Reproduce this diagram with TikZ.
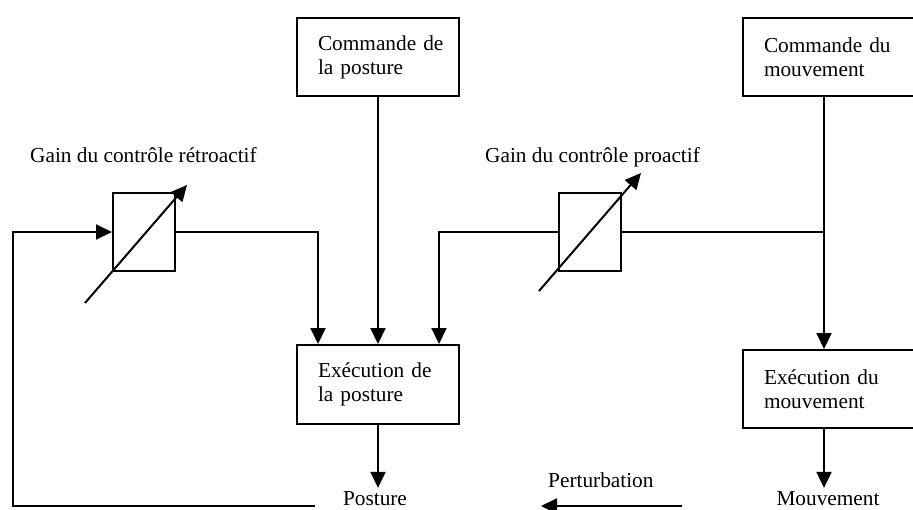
\documentclass[tikz,border=0pt]{standalone}
\usepackage{fontspec}
\setmainfont{Liberation Serif}
\usetikzlibrary{arrows.meta,calc}
\begin{document}
\begin{tikzpicture}[x=1pt,y=-1pt,
  every node/.style={font=\fontsize{21.3}{24}\selectfont},
  box/.style={draw, line width=2pt, align=left, inner xsep=21pt, inner ysep=0pt, anchor=north west},
  gain/.style={draw, line width=2pt, minimum width=62pt, minimum height=78pt, inner sep=0pt},
  ln/.style={line width=2pt},
  arr/.style={line width=2pt, -{Triangle[length=16pt,width=15pt]}}]
\useasboundingbox (0,0) rectangle (913,509);

% boxes
\node[box, text width=120pt, minimum height=78pt] (cp) at (296,17) {\mbox{Commande de}\\la posture};
\node[box, text width=120pt, minimum height=79pt] (ep) at (296,344) {\mbox{Exécution de}\\la posture};
\node[box, text width=136pt, minimum height=78pt] (cm) at (742,17) {\mbox{Commande du}\\mouvement};
\node[box, text width=136pt, minimum height=78pt] (em) at (742,349) {\mbox{Exécution du}\\mouvement};

% gain boxes
\node[gain] (gr) at (144,232) {};
\node[gain] (gp) at (590,232) {};

% labels
\node[anchor=base west, inner sep=0pt] (lr) at (30,162) {Gain du contrôle rétroactif};
\node[anchor=base west, inner sep=0pt] (lp) at (485,162) {Gain du contrôle proactif};
\node[anchor=base, inner sep=3pt] (post) at (375,505) {Posture};
\node[anchor=base west, inner sep=0pt] (pert) at (548,487) {Perturbation};
\node[anchor=base, inner sep=3pt] (mv) at (828,505) {Mouvement};

% coordinates
\coordinate (jm) at ([xshift=-8pt]cm.south);
\coordinate (emi) at ([xshift=-8pt]em.north);
\coordinate (emo) at ([xshift=-8pt]em.south);
\coordinate (fb) at (315,506);
\coordinate (fbl) at (13,506);
\coordinate (ps) at (682,506);
\coordinate (pe) at (541,506);

% connectors
\draw[arr] (cp.south) -- (ep.north);
\draw[arr] (gr.east) -| ([xshift=-60pt]ep.north);
\draw[arr] (gp.west) -| ([xshift=61pt]ep.north);
\draw[arr] (jm) -- (emi);
\draw[ln] (jm |- gp.east) -- (gp.east);
\draw[arr] (ep.south) -- (ep.south |- post.north);
\draw[arr] (emo) -- (emo |- mv.north);
\draw[arr] (fb) -- (fbl) |- (gr.west);
\draw[arr] (ps) -- (pe);

% variable gain arrows
\draw[arr] ($(gr.center)+(-59,71)$) -- ($(gr.center)+(43,-47)$);
\draw[arr] ($(gp.center)+(-51,59)$) -- ($(gp.center)+(51,-59)$);
\end{tikzpicture}
\end{document}
